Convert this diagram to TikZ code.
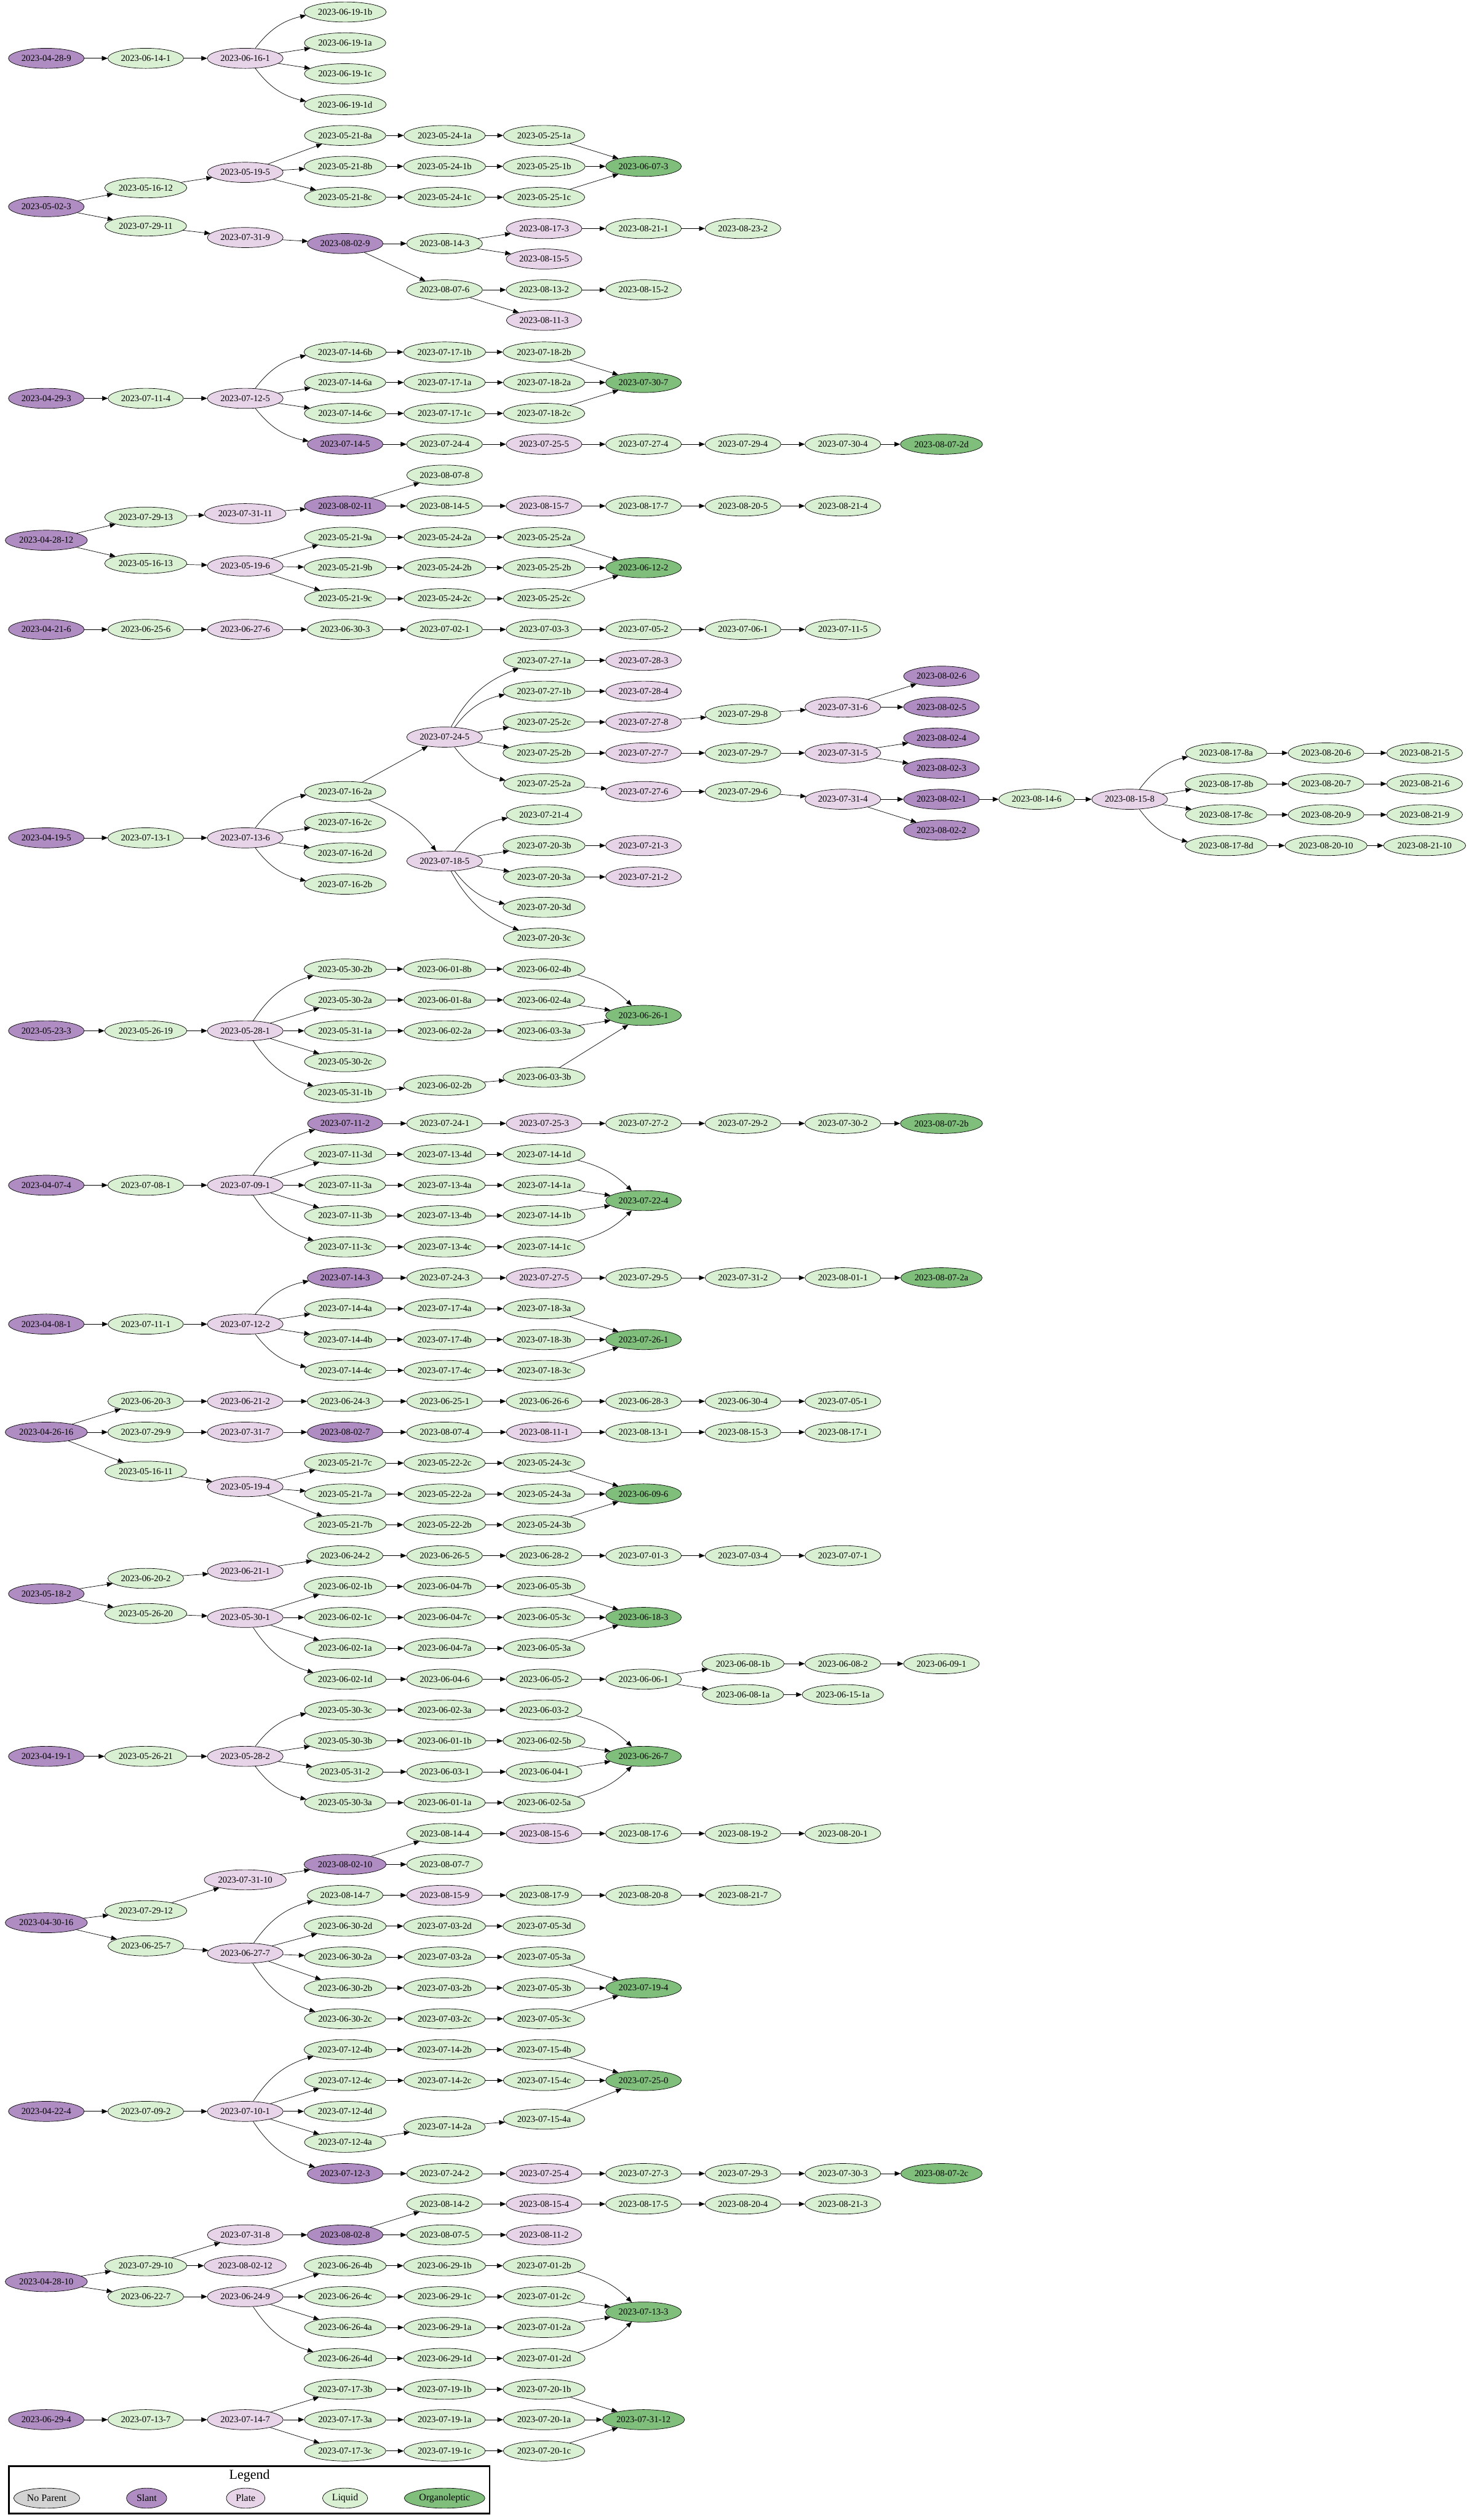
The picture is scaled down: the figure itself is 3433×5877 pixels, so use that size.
\documentclass[tikz,border=0pt]{standalone}
\usepackage{fontspec}
\setmainfont{Liberation Serif}
\usetikzlibrary{arrows.meta,shapes.geometric}
\definecolor{slantc}{HTML}{AF8DC3}
\definecolor{platec}{HTML}{E7D4E8}
\definecolor{liquidc}{HTML}{D9F0D3}
\definecolor{organoc}{HTML}{7FBF7B}
\definecolor{noparc}{HTML}{D3D3D3}
\tikzset{
  gv/.style={ellipse, draw=black, line width=0.02cm, inner xsep=0.09cm, inner ysep=0pt, minimum height=0.94cm, font=\fontsize{12}{14}\selectfont},
  slant/.style={gv, fill=slantc},
  plate/.style={gv, fill=platec},
  liquid/.style={gv, fill=liquidc},
  organo/.style={gv, fill=organoc},
  noparent/.style={gv, fill=noparc},
  key/.style={font=\fontsize{13}{15}\selectfont},
  arr/.style={-{Triangle[length=0.27cm,width=0.22cm]}, line width=0.02cm},
  fup/.style={arr, bend left=20},
  fdn/.style={arr, bend right=20},
  mdn/.style={arr, bend left=15},
  mup/.style={arr, bend right=15},
}
\def\colx{{108,340,572,805,1037,1269,1501,1733,1966,2196,2418,2635,2860,3093,3323}}
\newcommand\gnode[4]{\pgfmathsetmacro\xx{\colx[#3]}\node[#1] (n#2) at (\xx,#4) {2023-#2};}

\begin{document}
\begin{tikzpicture}[x=0.02cm, y=-0.02cm]
  \useasboundingbox (0,0) rectangle (3433,5877);

  % 2023-04-28-9
  \foreach \n/\c/\y in {04-28-9/0/136} \gnode{slant}{\n}{\c}{\y};
  \foreach \n/\c/\y in {06-16-1/2/136} \gnode{plate}{\n}{\c}{\y};
  \foreach \n/\c/\y in {06-14-1/1/136, 06-19-1b/3/28, 06-19-1a/3/100, 06-19-1c/3/172, 06-19-1d/3/244} \gnode{liquid}{\n}{\c}{\y};
  \foreach \a/\b in {04-28-9/06-14-1, 06-14-1/06-16-1, 06-16-1/06-19-1a, 06-16-1/06-19-1c} \draw[arr] (n\a) -- (n\b);
  \draw[fup] (n06-16-1) to (n06-19-1b);
  \draw[fdn] (n06-16-1) to (n06-19-1d);

  % 2023-05-02-3
  \foreach \n/\c/\y in {05-02-3/0/482, 08-02-9/3/568} \gnode{slant}{\n}{\c}{\y};
  \foreach \n/\c/\y in {05-19-5/2/402, 07-31-9/2/554, 08-17-3/5/533, 08-15-5/5/604, 08-11-3/5/747} \gnode{plate}{\n}{\c}{\y};
  \foreach \n/\c/\y in {05-16-12/1/438, 05-21-8a/3/316, 05-24-1a/4/316, 05-25-1a/5/316, 05-21-8b/3/388, 05-24-1b/4/388, 05-25-1b/5/388,
    05-21-8c/3/460, 05-24-1c/4/460, 05-25-1c/5/460, 07-29-11/1/527, 08-14-3/4/568, 08-21-1/6/533, 08-23-2/7/533,
    08-07-6/4/676, 08-13-2/5/676, 08-15-2/6/676} \gnode{liquid}{\n}{\c}{\y};
  \foreach \n/\c/\y in {06-07-3/6/388} \gnode{organo}{\n}{\c}{\y};
  \foreach \a/\b in {05-02-3/05-16-12, 05-02-3/07-29-11, 05-16-12/05-19-5, 05-19-5/05-21-8a, 05-19-5/05-21-8b, 05-19-5/05-21-8c,
    05-21-8a/05-24-1a, 05-24-1a/05-25-1a, 05-25-1a/06-07-3, 05-21-8b/05-24-1b, 05-24-1b/05-25-1b, 05-25-1b/06-07-3,
    05-21-8c/05-24-1c, 05-24-1c/05-25-1c, 05-25-1c/06-07-3, 07-29-11/07-31-9, 07-31-9/08-02-9, 08-02-9/08-14-3,
    08-02-9/08-07-6, 08-14-3/08-17-3, 08-14-3/08-15-5, 08-17-3/08-21-1, 08-21-1/08-23-2, 08-07-6/08-13-2,
    08-07-6/08-11-3, 08-13-2/08-15-2} \draw[arr] (n\a) -- (n\b);

  % 2023-04-29-3
  \foreach \n/\c/\y in {04-29-3/0/929, 07-14-5/3/1036} \gnode{slant}{\n}{\c}{\y};
  \foreach \n/\c/\y in {07-12-5/2/929, 07-25-5/5/1036} \gnode{plate}{\n}{\c}{\y};
  \foreach \n/\c/\y in {07-11-4/1/929, 07-14-6b/3/821, 07-17-1b/4/821, 07-18-2b/5/821, 07-14-6a/3/892, 07-17-1a/4/892, 07-18-2a/5/892,
    07-14-6c/3/964, 07-17-1c/4/964, 07-18-2c/5/964, 07-24-4/4/1036, 07-27-4/6/1036, 07-29-4/7/1036, 07-30-4/8/1036} \gnode{liquid}{\n}{\c}{\y};
  \foreach \n/\c/\y in {07-30-7/6/892, 08-07-2d/9/1036} \gnode{organo}{\n}{\c}{\y};
  \foreach \a/\b in {04-29-3/07-11-4, 07-11-4/07-12-5, 07-12-5/07-14-6a, 07-12-5/07-14-6c, 07-14-6b/07-17-1b, 07-17-1b/07-18-2b,
    07-18-2b/07-30-7, 07-14-6a/07-17-1a, 07-17-1a/07-18-2a, 07-18-2a/07-30-7, 07-14-6c/07-17-1c, 07-17-1c/07-18-2c,
    07-18-2c/07-30-7, 07-14-5/07-24-4, 07-24-4/07-25-5, 07-25-5/07-27-4, 07-27-4/07-29-4, 07-29-4/07-30-4,
    07-30-4/08-07-2d} \draw[arr] (n\a) -- (n\b);
  \draw[fup] (n07-12-5) to (n07-14-6b);
  \draw[fdn] (n07-12-5) to (n07-14-5);

  % 2023-04-28-12
  \foreach \n/\c/\y in {04-28-12/0/1260, 08-02-11/3/1180} \gnode{slant}{\n}{\c}{\y};
  \foreach \n/\c/\y in {07-31-11/2/1198, 08-15-7/5/1180, 05-19-6/2/1320} \gnode{plate}{\n}{\c}{\y};
  \foreach \n/\c/\y in {07-29-13/1/1206, 08-07-8/4/1108, 08-14-5/4/1180, 08-17-7/6/1180, 08-20-5/7/1180, 08-21-4/8/1180,
    05-16-13/1/1314, 05-21-9a/3/1253, 05-24-2a/4/1253, 05-25-2a/5/1253, 05-21-9b/3/1324, 05-24-2b/4/1324, 05-25-2b/5/1324,
    05-21-9c/3/1396, 05-24-2c/4/1396, 05-25-2c/5/1396} \gnode{liquid}{\n}{\c}{\y};
  \foreach \n/\c/\y in {06-12-2/6/1324} \gnode{organo}{\n}{\c}{\y};
  \foreach \a/\b in {04-28-12/07-29-13, 04-28-12/05-16-13, 07-29-13/07-31-11, 07-31-11/08-02-11, 08-02-11/08-07-8,
    08-02-11/08-14-5, 08-14-5/08-15-7, 08-15-7/08-17-7, 08-17-7/08-20-5, 08-20-5/08-21-4, 05-16-13/05-19-6,
    05-19-6/05-21-9a, 05-19-6/05-21-9b, 05-19-6/05-21-9c, 05-21-9a/05-24-2a, 05-24-2a/05-25-2a, 05-25-2a/06-12-2,
    05-21-9b/05-24-2b, 05-24-2b/05-25-2b, 05-25-2b/06-12-2, 05-21-9c/05-24-2c, 05-24-2c/05-25-2c,
    05-25-2c/06-12-2} \draw[arr] (n\a) -- (n\b);

  % 2023-04-21-6
  \foreach \n/\c/\y in {04-21-6/0/1468} \gnode{slant}{\n}{\c}{\y};
  \foreach \n/\c/\y in {06-27-6/2/1468} \gnode{plate}{\n}{\c}{\y};
  \foreach \n/\c/\y in {06-25-6/1/1468, 06-30-3/3/1468, 07-02-1/4/1468, 07-03-3/5/1468, 07-05-2/6/1468, 07-06-1/7/1468,
    07-11-5/8/1468} \gnode{liquid}{\n}{\c}{\y};
  \foreach \a/\b in {04-21-6/06-25-6, 06-25-6/06-27-6, 06-27-6/06-30-3, 06-30-3/07-02-1, 07-02-1/07-03-3, 07-03-3/07-05-2,
    07-05-2/07-06-1, 07-06-1/07-11-5} \draw[arr] (n\a) -- (n\b);

  % 2023-04-19-5
  \foreach \n/\c/\y in {04-19-5/0/1954, 08-02-6/9/1577, 08-02-5/9/1649, 08-02-4/9/1721, 08-02-3/9/1792, 08-02-1/9/1864,
    08-02-2/9/1936} \gnode{slant}{\n}{\c}{\y};
  \foreach \n/\c/\y in {07-13-6/2/1954, 07-24-5/4/1719, 07-28-3/6/1540, 07-28-4/6/1612, 07-27-8/6/1684, 07-31-6/8/1649,
    07-27-7/6/1756, 07-31-5/8/1756, 07-27-6/6/1846, 07-31-4/8/1864, 08-15-8/11/1864, 07-18-5/4/2008, 07-21-3/6/1972,
    07-21-2/6/2045} \gnode{plate}{\n}{\c}{\y};
  \foreach \n/\c/\y in {07-13-1/1/1954, 07-16-2a/3/1846, 07-16-2c/3/1918, 07-16-2d/3/1989, 07-16-2b/3/2062, 07-27-1a/5/1540,
    07-27-1b/5/1612, 07-25-2c/5/1684, 07-29-8/7/1666, 07-25-2b/5/1756, 07-29-7/7/1756, 07-25-2a/5/1828, 07-29-6/7/1846,
    08-14-6/10/1864, 08-17-8a/12/1756, 08-20-6/13/1756, 08-21-5/14/1756, 08-17-8b/12/1828, 08-20-7/13/1828, 08-21-6/14/1828,
    08-17-8c/12/1900, 08-20-9/13/1900, 08-21-9/14/1900, 08-17-8d/12/1972, 08-20-10/13/1972, 08-21-10/14/1972,
    07-21-4/5/1900, 07-20-3b/5/1972, 07-20-3a/5/2045, 07-20-3d/5/2116, 07-20-3c/5/2188} \gnode{liquid}{\n}{\c}{\y};
  \foreach \a/\b in {04-19-5/07-13-1, 07-13-1/07-13-6, 07-13-6/07-16-2c, 07-13-6/07-16-2d, 07-16-2a/07-24-5, 07-24-5/07-25-2c,
    07-24-5/07-25-2b, 07-27-1a/07-28-3, 07-27-1b/07-28-4, 07-25-2c/07-27-8, 07-27-8/07-29-8, 07-29-8/07-31-6,
    07-31-6/08-02-6, 07-31-6/08-02-5, 07-25-2b/07-27-7, 07-27-7/07-29-7, 07-29-7/07-31-5, 07-31-5/08-02-4,
    07-31-5/08-02-3, 07-25-2a/07-27-6, 07-27-6/07-29-6, 07-29-6/07-31-4, 07-31-4/08-02-1, 07-31-4/08-02-2,
    08-02-1/08-14-6, 08-14-6/08-15-8, 08-15-8/08-17-8b, 08-15-8/08-17-8c, 08-17-8a/08-20-6, 08-20-6/08-21-5,
    08-17-8b/08-20-7, 08-20-7/08-21-6, 08-17-8c/08-20-9, 08-20-9/08-21-9, 08-17-8d/08-20-10, 08-20-10/08-21-10,
    07-18-5/07-20-3b, 07-18-5/07-20-3a, 07-20-3b/07-21-3, 07-20-3a/07-21-2} \draw[arr] (n\a) -- (n\b);
  \foreach \a/\b in {07-13-6/07-16-2a, 07-24-5/07-27-1a, 07-24-5/07-27-1b, 08-15-8/08-17-8a, 07-18-5/07-21-4} \draw[fup] (n\a) to (n\b);
  \foreach \a/\b in {07-13-6/07-16-2b, 07-24-5/07-25-2a, 08-15-8/08-17-8d, 07-18-5/07-20-3d, 07-18-5/07-20-3c} \draw[fdn] (n\a) to (n\b);
  \draw[mdn] (n07-16-2a) to (n07-18-5);

  % 2023-05-23-3
  \foreach \n/\c/\y in {05-23-3/0/2404} \gnode{slant}{\n}{\c}{\y};
  \foreach \n/\c/\y in {05-28-1/2/2404} \gnode{plate}{\n}{\c}{\y};
  \foreach \n/\c/\y in {05-26-19/1/2404, 05-30-2b/3/2260, 06-01-8b/4/2260, 06-02-4b/5/2260, 05-30-2a/3/2332, 06-01-8a/4/2332,
    06-02-4a/5/2332, 05-31-1a/3/2404, 06-02-2a/4/2404, 06-03-3a/5/2404, 05-30-2c/3/2476, 05-31-1b/3/2548, 06-02-2b/4/2531,
    06-03-3b/5/2512} \gnode{liquid}{\n}{\c}{\y};
  \foreach \n/\c/\y in {06-26-1/6/2368} \gnode{organo}{\n}{\c}{\y};
  \foreach \a/\b in {05-23-3/05-26-19, 05-26-19/05-28-1, 05-28-1/05-30-2a, 05-28-1/05-31-1a, 05-28-1/05-30-2c,
    05-30-2b/06-01-8b, 06-01-8b/06-02-4b, 05-30-2a/06-01-8a, 06-01-8a/06-02-4a, 06-02-4a/06-26-1, 05-31-1a/06-02-2a,
    06-02-2a/06-03-3a, 06-03-3a/06-26-1, 05-31-1b/06-02-2b, 06-02-2b/06-03-3b, 06-03-3b/06-26-1} \draw[arr] (n\a) -- (n\b);
  \draw[fup] (n05-28-1) to (n05-30-2b);
  \draw[fdn] (n05-28-1) to (n05-31-1b);
  \draw[mdn] (n06-02-4b) to (n06-26-1);

  % 2023-04-07-4
  \foreach \n/\c/\y in {04-07-4/0/2764, 07-11-2/3/2620} \gnode{slant}{\n}{\c}{\y};
  \foreach \n/\c/\y in {07-09-1/2/2764, 07-25-3/5/2620} \gnode{plate}{\n}{\c}{\y};
  \foreach \n/\c/\y in {07-08-1/1/2764, 07-24-1/4/2620, 07-27-2/6/2620, 07-29-2/7/2620, 07-30-2/8/2620, 07-11-3d/3/2692,
    07-13-4d/4/2692, 07-14-1d/5/2692, 07-11-3a/3/2764, 07-13-4a/4/2764, 07-14-1a/5/2764, 07-11-3b/3/2835, 07-13-4b/4/2835,
    07-14-1b/5/2835, 07-11-3c/3/2908, 07-13-4c/4/2908, 07-14-1c/5/2908} \gnode{liquid}{\n}{\c}{\y};
  \foreach \n/\c/\y in {08-07-2b/9/2620, 07-22-4/6/2800} \gnode{organo}{\n}{\c}{\y};
  \foreach \a/\b in {04-07-4/07-08-1, 07-08-1/07-09-1, 07-09-1/07-11-3d, 07-09-1/07-11-3a, 07-09-1/07-11-3b, 07-11-2/07-24-1,
    07-24-1/07-25-3, 07-25-3/07-27-2, 07-27-2/07-29-2, 07-29-2/07-30-2, 07-30-2/08-07-2b, 07-11-3d/07-13-4d,
    07-13-4d/07-14-1d, 07-11-3a/07-13-4a, 07-13-4a/07-14-1a, 07-14-1a/07-22-4, 07-11-3b/07-13-4b, 07-13-4b/07-14-1b,
    07-14-1b/07-22-4, 07-11-3c/07-13-4c, 07-13-4c/07-14-1c} \draw[arr] (n\a) -- (n\b);
  \draw[fup] (n07-09-1) to (n07-11-2);
  \draw[fdn] (n07-09-1) to (n07-11-3c);
  \draw[mdn] (n07-14-1d) to (n07-22-4);
  \draw[mup] (n07-14-1c) to (n07-22-4);

  % 2023-04-08-1
  \foreach \n/\c/\y in {04-08-1/0/3088, 07-14-3/3/2980} \gnode{slant}{\n}{\c}{\y};
  \foreach \n/\c/\y in {07-12-2/2/3088, 07-27-5/5/2980} \gnode{plate}{\n}{\c}{\y};
  \foreach \n/\c/\y in {07-11-1/1/3088, 07-24-3/4/2980, 07-29-5/6/2980, 07-31-2/7/2980, 08-01-1/8/2980, 07-14-4a/3/3052,
    07-17-4a/4/3052, 07-18-3a/5/3052, 07-14-4b/3/3124, 07-17-4b/4/3124, 07-18-3b/5/3124, 07-14-4c/3/3196, 07-17-4c/4/3196,
    07-18-3c/5/3196} \gnode{liquid}{\n}{\c}{\y};
  \foreach \n/\c/\y in {08-07-2a/9/2980, 07-26-1/6/3124} \gnode{organo}{\n}{\c}{\y};
  \foreach \a/\b in {04-08-1/07-11-1, 07-11-1/07-12-2, 07-12-2/07-14-4a, 07-12-2/07-14-4b, 07-14-3/07-24-3, 07-24-3/07-27-5,
    07-27-5/07-29-5, 07-29-5/07-31-2, 07-31-2/08-01-1, 08-01-1/08-07-2a, 07-14-4a/07-17-4a, 07-17-4a/07-18-3a,
    07-18-3a/07-26-1, 07-14-4b/07-17-4b, 07-17-4b/07-18-3b, 07-18-3b/07-26-1, 07-14-4c/07-17-4c, 07-17-4c/07-18-3c,
    07-18-3c/07-26-1} \draw[arr] (n\a) -- (n\b);
  \draw[fup] (n07-12-2) to (n07-14-3);
  \draw[fdn] (n07-12-2) to (n07-14-4c);

  % 2023-04-26-16
  \foreach \n/\c/\y in {04-26-16/0/3340, 08-02-7/3/3340} \gnode{slant}{\n}{\c}{\y};
  \foreach \n/\c/\y in {06-21-2/2/3268, 07-31-7/2/3340, 08-11-1/5/3340, 05-19-4/2/3467} \gnode{plate}{\n}{\c}{\y};
  \foreach \n/\c/\y in {06-20-3/1/3268, 06-24-3/3/3268, 06-25-1/4/3268, 06-26-6/5/3268, 06-28-3/6/3268, 06-30-4/7/3268,
    07-05-1/8/3268, 07-29-9/1/3340, 08-07-4/4/3340, 08-13-1/6/3340, 08-15-3/7/3340, 08-17-1/8/3340, 05-16-11/1/3431,
    05-21-7c/3/3412, 05-22-2c/4/3412, 05-24-3c/5/3412, 05-21-7a/3/3484, 05-22-2a/4/3484, 05-24-3a/5/3484,
    05-21-7b/3/3556, 05-22-2b/4/3556, 05-24-3b/5/3556} \gnode{liquid}{\n}{\c}{\y};
  \foreach \n/\c/\y in {06-09-6/6/3484} \gnode{organo}{\n}{\c}{\y};
  \foreach \a/\b in {04-26-16/06-20-3, 04-26-16/07-29-9, 04-26-16/05-16-11, 06-20-3/06-21-2, 06-21-2/06-24-3, 06-24-3/06-25-1,
    06-25-1/06-26-6, 06-26-6/06-28-3, 06-28-3/06-30-4, 06-30-4/07-05-1, 07-29-9/07-31-7, 07-31-7/08-02-7, 08-02-7/08-07-4,
    08-07-4/08-11-1, 08-11-1/08-13-1, 08-13-1/08-15-3, 08-15-3/08-17-1, 05-16-11/05-19-4, 05-19-4/05-21-7c,
    05-19-4/05-21-7a, 05-19-4/05-21-7b, 05-21-7c/05-22-2c, 05-22-2c/05-24-3c, 05-24-3c/06-09-6, 05-21-7a/05-22-2a,
    05-22-2a/05-24-3a, 05-24-3a/06-09-6, 05-21-7b/05-22-2b, 05-22-2b/05-24-3b, 05-24-3b/06-09-6} \draw[arr] (n\a) -- (n\b);

  % 2023-05-18-2
  \foreach \n/\c/\y in {05-18-2/0/3717} \gnode{slant}{\n}{\c}{\y};
  \foreach \n/\c/\y in {06-21-1/2/3664, 05-30-1/2/3772} \gnode{plate}{\n}{\c}{\y};
  \foreach \n/\c/\y in {06-20-2/1/3681, 06-24-2/3/3628, 06-26-5/4/3628, 06-28-2/5/3628, 07-01-3/6/3628, 07-03-4/7/3628,
    07-07-1/8/3628, 05-26-20/1/3763, 06-02-1b/3/3700, 06-04-7b/4/3700, 06-05-3b/5/3700, 06-02-1c/3/3772, 06-04-7c/4/3772,
    06-05-3c/5/3772, 06-02-1a/3/3844, 06-04-7a/4/3844, 06-05-3a/5/3844, 06-02-1d/3/3916, 06-04-6/4/3916, 06-05-2/5/3916,
    06-06-1/6/3916, 06-08-1b/7/3880, 06-08-2/8/3880, 06-09-1/9/3880, 06-08-1a/7/3952, 06-15-1a/8/3952} \gnode{liquid}{\n}{\c}{\y};
  \foreach \n/\c/\y in {06-18-3/6/3772} \gnode{organo}{\n}{\c}{\y};
  \foreach \a/\b in {05-18-2/06-20-2, 05-18-2/05-26-20, 06-20-2/06-21-1, 06-21-1/06-24-2, 06-24-2/06-26-5, 06-26-5/06-28-2,
    06-28-2/07-01-3, 07-01-3/07-03-4, 07-03-4/07-07-1, 05-26-20/05-30-1, 05-30-1/06-02-1b, 05-30-1/06-02-1c,
    05-30-1/06-02-1a, 06-02-1b/06-04-7b, 06-04-7b/06-05-3b, 06-05-3b/06-18-3, 06-02-1c/06-04-7c, 06-04-7c/06-05-3c,
    06-05-3c/06-18-3, 06-02-1a/06-04-7a, 06-04-7a/06-05-3a, 06-05-3a/06-18-3, 06-02-1d/06-04-6, 06-04-6/06-05-2,
    06-05-2/06-06-1, 06-06-1/06-08-1b, 06-06-1/06-08-1a, 06-08-1b/06-08-2, 06-08-2/06-09-1, 06-08-1a/06-15-1a} \draw[arr] (n\a) -- (n\b);
  \draw[fdn] (n05-30-1) to (n06-02-1d);

  % 2023-04-19-1
  \foreach \n/\c/\y in {04-19-1/0/4096} \gnode{slant}{\n}{\c}{\y};
  \foreach \n/\c/\y in {05-28-2/2/4096} \gnode{plate}{\n}{\c}{\y};
  \foreach \n/\c/\y in {05-26-21/1/4096, 05-30-3c/3/3988, 06-02-3a/4/3988, 06-03-2/5/3988, 05-30-3b/3/4060, 06-01-1b/4/4060,
    06-02-5b/5/4060, 05-31-2/3/4132, 06-03-1/4/4132, 06-04-1/5/4132, 05-30-3a/3/4204, 06-01-1a/4/4204,
    06-02-5a/5/4204} \gnode{liquid}{\n}{\c}{\y};
  \foreach \n/\c/\y in {06-26-7/6/4096} \gnode{organo}{\n}{\c}{\y};
  \foreach \a/\b in {04-19-1/05-26-21, 05-26-21/05-28-2, 05-28-2/05-30-3b, 05-28-2/05-31-2, 05-30-3c/06-02-3a, 06-02-3a/06-03-2,
    05-30-3b/06-01-1b, 06-01-1b/06-02-5b, 06-02-5b/06-26-7, 05-31-2/06-03-1, 06-03-1/06-04-1, 06-04-1/06-26-7,
    05-30-3a/06-01-1a, 06-01-1a/06-02-5a} \draw[arr] (n\a) -- (n\b);
  \draw[fup] (n05-28-2) to (n05-30-3c);
  \draw[fdn] (n05-28-2) to (n05-30-3a);
  \draw[mdn] (n06-03-2) to (n06-26-7);
  \draw[mup] (n06-02-5a) to (n06-26-7);

  % 2023-04-30-16
  \foreach \n/\c/\y in {04-30-16/0/4484, 08-02-10/3/4348} \gnode{slant}{\n}{\c}{\y};
  \foreach \n/\c/\y in {07-31-10/2/4384, 08-15-6/5/4276, 08-15-9/4/4420, 06-27-7/2/4555} \gnode{plate}{\n}{\c}{\y};
  \foreach \n/\c/\y in {08-14-4/4/4276, 08-17-6/6/4276, 08-19-2/7/4276, 08-20-1/8/4276, 08-07-7/4/4348, 08-14-7/3/4420,
    08-17-9/5/4420, 08-20-8/6/4420, 08-21-7/7/4420, 07-29-12/1/4456, 06-30-2d/3/4492, 07-03-2d/4/4492, 07-05-3d/5/4492,
    06-25-7/1/4538, 06-30-2a/3/4564, 07-03-2a/4/4564, 07-05-3a/5/4564, 06-30-2b/3/4636, 07-03-2b/4/4636, 07-05-3b/5/4636,
    06-30-2c/3/4708, 07-03-2c/4/4708, 07-05-3c/5/4708} \gnode{liquid}{\n}{\c}{\y};
  \foreach \n/\c/\y in {07-19-4/6/4636} \gnode{organo}{\n}{\c}{\y};
  \foreach \a/\b in {04-30-16/07-29-12, 04-30-16/06-25-7, 07-29-12/07-31-10, 07-31-10/08-02-10, 08-02-10/08-14-4,
    08-02-10/08-07-7, 08-14-4/08-15-6, 08-15-6/08-17-6, 08-17-6/08-19-2, 08-19-2/08-20-1, 06-25-7/06-27-7,
    06-27-7/06-30-2d, 06-27-7/06-30-2a, 06-27-7/06-30-2b, 08-14-7/08-15-9, 08-15-9/08-17-9, 08-17-9/08-20-8,
    08-20-8/08-21-7, 06-30-2d/07-03-2d, 07-03-2d/07-05-3d, 06-30-2a/07-03-2a, 07-03-2a/07-05-3a, 07-05-3a/07-19-4,
    06-30-2b/07-03-2b, 07-03-2b/07-05-3b, 07-05-3b/07-19-4, 06-30-2c/07-03-2c, 07-03-2c/07-05-3c,
    07-05-3c/07-19-4} \draw[arr] (n\a) -- (n\b);
  \draw[fup] (n06-27-7) to (n08-14-7);
  \draw[fdn] (n06-27-7) to (n06-30-2c);

  % 2023-04-22-4
  \foreach \n/\c/\y in {04-22-4/0/4924, 07-12-3/3/5069} \gnode{slant}{\n}{\c}{\y};
  \foreach \n/\c/\y in {07-10-1/2/4924, 07-25-4/5/5069} \gnode{plate}{\n}{\c}{\y};
  \foreach \n/\c/\y in {07-09-2/1/4924, 07-12-4b/3/4780, 07-14-2b/4/4780, 07-15-4b/5/4780, 07-12-4c/3/4852, 07-14-2c/4/4852,
    07-15-4c/5/4852, 07-12-4d/3/4924, 07-15-4a/5/4942, 07-14-2a/4/4960, 07-12-4a/3/4996, 07-24-2/4/5069, 07-27-3/6/5069,
    07-29-3/7/5069, 07-30-3/8/5069} \gnode{liquid}{\n}{\c}{\y};
  \foreach \n/\c/\y in {07-25-0/6/4852, 08-07-2c/9/5069} \gnode{organo}{\n}{\c}{\y};
  \foreach \a/\b in {04-22-4/07-09-2, 07-09-2/07-10-1, 07-10-1/07-12-4c, 07-10-1/07-12-4d, 07-10-1/07-12-4a,
    07-12-4b/07-14-2b, 07-14-2b/07-15-4b, 07-15-4b/07-25-0, 07-12-4c/07-14-2c, 07-14-2c/07-15-4c, 07-15-4c/07-25-0,
    07-12-4a/07-14-2a, 07-14-2a/07-15-4a, 07-15-4a/07-25-0, 07-12-3/07-24-2, 07-24-2/07-25-4, 07-25-4/07-27-3,
    07-27-3/07-29-3, 07-29-3/07-30-3, 07-30-3/08-07-2c} \draw[arr] (n\a) -- (n\b);
  \draw[fup] (n07-10-1) to (n07-12-4b);
  \draw[fdn] (n07-10-1) to (n07-12-3);

  % 2023-04-28-10
  \foreach \n/\c/\y in {04-28-10/0/5321, 08-02-8/3/5212} \gnode{slant}{\n}{\c}{\y};
  \foreach \n/\c/\y in {08-15-4/5/5140, 07-31-8/2/5212, 08-11-2/5/5212, 08-02-12/2/5284, 06-24-9/2/5356} \gnode{plate}{\n}{\c}{\y};
  \foreach \n/\c/\y in {08-14-2/4/5140, 08-17-5/6/5140, 08-20-4/7/5140, 08-21-3/8/5140, 08-07-5/4/5212, 07-29-10/1/5284,
    06-26-4b/3/5284, 06-29-1b/4/5284, 07-01-2b/5/5284, 06-22-7/1/5356, 06-26-4c/3/5356, 06-29-1c/4/5356, 07-01-2c/5/5356,
    06-26-4a/3/5428, 06-29-1a/4/5428, 07-01-2a/5/5428, 06-26-4d/3/5500, 06-29-1d/4/5500, 07-01-2d/5/5500} \gnode{liquid}{\n}{\c}{\y};
  \foreach \n/\c/\y in {07-13-3/6/5392} \gnode{organo}{\n}{\c}{\y};
  \foreach \a/\b in {04-28-10/07-29-10, 04-28-10/06-22-7, 07-29-10/07-31-8, 07-29-10/08-02-12, 07-31-8/08-02-8,
    08-02-8/08-14-2, 08-02-8/08-07-5, 08-14-2/08-15-4, 08-15-4/08-17-5, 08-17-5/08-20-4, 08-20-4/08-21-3,
    08-07-5/08-11-2, 06-22-7/06-24-9, 06-24-9/06-26-4b, 06-24-9/06-26-4c, 06-24-9/06-26-4a, 06-26-4b/06-29-1b,
    06-29-1b/07-01-2b, 06-26-4c/06-29-1c, 06-29-1c/07-01-2c, 07-01-2c/07-13-3, 06-26-4a/06-29-1a, 06-29-1a/07-01-2a,
    07-01-2a/07-13-3, 06-26-4d/06-29-1d, 06-29-1d/07-01-2d} \draw[arr] (n\a) -- (n\b);
  \draw[fdn] (n06-24-9) to (n06-26-4d);
  \draw[mdn] (n07-01-2b) to (n07-13-3);
  \draw[mup] (n07-01-2d) to (n07-13-3);

  % 2023-06-29-4
  \foreach \n/\c/\y in {06-29-4/0/5643} \gnode{slant}{\n}{\c}{\y};
  \foreach \n/\c/\y in {07-14-7/2/5643} \gnode{plate}{\n}{\c}{\y};
  \foreach \n/\c/\y in {07-13-7/1/5643, 07-17-3b/3/5572, 07-19-1b/4/5572, 07-20-1b/5/5572, 07-17-3a/3/5643, 07-19-1a/4/5643,
    07-20-1a/5/5643, 07-17-3c/3/5716, 07-19-1c/4/5716, 07-20-1c/5/5716} \gnode{liquid}{\n}{\c}{\y};
  \foreach \n/\c/\y in {07-31-12/6/5643} \gnode{organo}{\n}{\c}{\y};
  \foreach \a/\b in {06-29-4/07-13-7, 07-13-7/07-14-7, 07-14-7/07-17-3b, 07-14-7/07-17-3a, 07-14-7/07-17-3c,
    07-17-3b/07-19-1b, 07-19-1b/07-20-1b, 07-20-1b/07-31-12, 07-17-3a/07-19-1a, 07-19-1a/07-20-1a, 07-20-1a/07-31-12,
    07-17-3c/07-19-1c, 07-19-1c/07-20-1c, 07-20-1c/07-31-12} \draw[arr] (n\a) -- (n\b);

  % legend
  \draw[line width=0.08cm] (21,5751) rectangle (1142,5862);
  \node[font=\fontsize{18}{20}\selectfont] (legtitle) at (582,5774) {Legend};
  \node[noparent, key, minimum width=3.08cm] (kNoParent) at (109,5826) {No Parent};
  \node[slant, key, minimum width=1.88cm] (kSlant) at (342,5826) {Slant};
  \node[plate, key, minimum width=1.8cm] (kPlate) at (573,5826) {Plate};
  \node[liquid, key, minimum width=2.1cm] (kLiquid) at (805,5826) {Liquid};
  \node[organo, key, minimum width=3.76cm] (kOrgano) at (1037,5826) {Organoleptic};
\end{tikzpicture}
\end{document}
